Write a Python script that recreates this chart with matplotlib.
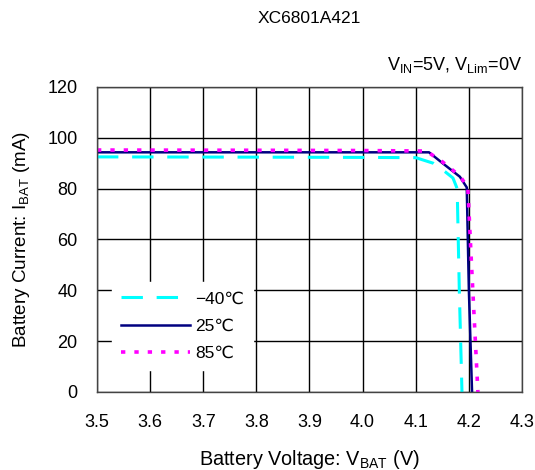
import matplotlib
matplotlib.use("Agg")
import matplotlib.pyplot as plt

plt.rcParams['font.family'] = ['Liberation Sans', 'DejaVu Sans']
plt.rcParams['mathtext.fontset'] = 'custom'
plt.rcParams['mathtext.rm'] = 'Liberation Sans'
plt.rcParams['mathtext.it'] = 'Liberation Sans'

title = "XC6801A421"
cond = r"V$_{\mathrm{IN}}$=5V, V$_{\mathrm{Lim}}$=0V"
xlabel = r"Battery Voltage: V$_{\mathrm{BAT}}$ (V)"
ylabel = r"Battery Current: I$_{\mathrm{BAT}}$ (mA)"

v_m40 = [3.5, 3.8, 4.0, 4.10, 4.133, 4.155, 4.17, 4.178, 4.182, 4.187]
i_m40 = [92.5, 92.4, 92.3, 92.2, 90.0, 86.7, 84.2, 80.0, 40.0, 0.0]

v_25 = [3.5, 3.8, 4.0, 4.125, 4.15, 4.183, 4.196, 4.2, 4.206]
i_25 = [94.3, 94.3, 94.3, 94.3, 90.1, 84.7, 80.5, 40.0, 0.0]

v_85 = [3.5, 3.8, 4.0, 4.12, 4.15, 4.183, 4.198, 4.205, 4.217]
i_85 = [95.2, 95.1, 95.0, 94.8, 90.6, 85.0, 80.5, 50.0, 0.0]

labels = ["\u221240\u2103", "25\u2103", "85\u2103"]

fig = plt.figure(figsize=(5.35, 4.7), dpi=100)
ax = fig.add_axes([0.1813, 0.166, 0.7944, 0.6489])

ax.plot(v_m40, i_m40, color='#00FFFF', lw=2.2, dashes=(7, 4.5), label=labels[0])
ax.plot(v_25, i_25, color='#000080', lw=1.8, label=labels[1])
ax.plot(v_85, i_85, color='#FF00FF', lw=2.6, dashes=(1.2, 2.5), label=labels[2])

ax.set_xlim(3.5, 4.3)
ax.set_ylim(0, 120)
ax.set_xticks([3.5 + 0.1 * k for k in range(9)])
ax.set_xticklabels([f"{3.5 + 0.1 * k:.1f}" for k in range(9)])
ax.set_yticks(range(0, 121, 20))
ax.grid(True, color='black', lw=1)
ax.tick_params(axis='both', length=0, labelsize=13)
ax.tick_params(axis='x', pad=16)
ax.tick_params(axis='y', pad=14)
for s in ax.spines.values():
    s.set_color('#444444')
    s.set_linewidth(1)

ax.set_xlabel(xlabel, fontsize=14.3, labelpad=12)
ax.set_ylabel(ylabel, fontsize=13.6, labelpad=11)
ax.set_title(title, fontsize=12.5, pad=46)
ax.text(1.0, 1.04, cond, transform=ax.transAxes, ha='right', va='bottom', fontsize=13)

leg = ax.legend(loc='lower left', bbox_to_anchor=(0.015, 0.045), frameon=True,
                fontsize=12.5, handlelength=4.0, handletextpad=0.3,
                labelspacing=0.7, borderpad=0.5)
leg.get_frame().set_edgecolor('white')
leg.get_frame().set_facecolor('white')
leg.get_frame().set_alpha(1)

fig.savefig("out.png", dpi=100)
